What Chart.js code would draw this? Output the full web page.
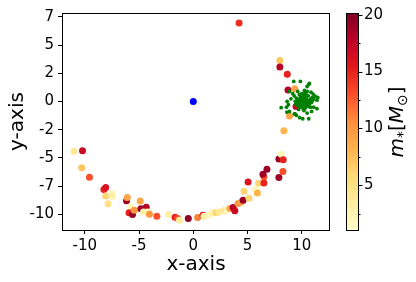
<!DOCTYPE html>
<html><head><meta charset="utf-8">
<script src="https://cdn.jsdelivr.net/npm/chart.js@4/dist/chart.umd.min.js"></script>
<style>html,body{margin:0;padding:0;background:#fff}#wrap{width:416px;height:282px;position:relative}</style>
</head><body><div id="wrap"><canvas id="c" width="416" height="282"></canvas></div>
<script>
// ---- data ----
const starX = [-10.99,-10.21,-10.28,-9.57,-8.24,-8.07,-8.07,-7.52,-7.46,-7.85,-6.15,-6.08,-5.76,-5.92,-5.6,-5.44,-4.89,-4.83,-4.34,-4.59,-4.22,-4.04,-3.36,-2.29,-1.68,-1.43,-1.28,-0.46,0.4,0.89,0.98,1.53,1.83,2.13,2.36,2.91,3.09,3.37,3.67,3.83,4.13,4.44,4.59,5.14,4.68,5.05,5.72,5.91,6.03,6.51,6.51,6.42,6.79,7.89,8.11,8.29,8.26,7.89,8.35,8.87,4.22,7.98,7.98,8.66,8.73,9.36,9.47];
const starY = [-4.42,-4.38,-5.87,-6.73,-7.81,-7.64,-8.38,-8.19,-8.41,-9.07,-8.81,-8.52,-9.34,-9.88,-10.03,-9.65,-8.82,-9.51,-9.38,-9.8,-9.8,-10.0,-10.18,-10.03,-10.27,-10.38,-10.53,-10.38,-10.29,-10.1,-10.18,-10.04,-9.85,-9.88,-9.8,-9.65,-9.6,-9.5,-9.41,-9.69,-9.05,-8.91,-8.76,-8.58,-7.96,-7.14,-7.83,-8.11,-7.26,-7.23,-6.68,-6.46,-6.02,-5.1,-4.69,-5.16,-6.22,-6.75,-2.59,-1.28,6.96,3.63,3.07,2.42,1.02,1.12,-0.44];
const starMass = [4,17,7,13,15,16,6,2.5,3,5,19,9,2,15,19.5,10,9,19,18,3,2.5,10,13,3,15,13,3.5,19.5,11,16,3,2,3,6,4,5,2,9,18,17,10,9,19,6,6,16,2,8,6,15,13,19,19,19,2,15,13,19,8,9,14.5,7,18,15,18,9,17];
const clusterX = [9.26,9.87,10.64,10.49,8.86,9.17,9.63,9.78,10.24,10.39,10.85,11.04,11.22,11.47,11.4,11.1,8.1,8.59,8.86,8.65,8.77,9.0,11.4,10.91,10.49,9.32,9.5,9.81,10.09,10.64,11.1,8.62,9.39,10.7,10.0,10.2,10.3,10.1,9.9,10.4,9.7,9.8,10.5,10.6,10.0,10.3,9.6,10.7,9.9,10.2,10.8,9.5,10.1,10.4,10.0,10.6,9.4,10.9,9.7,10.2,10.8,9.3,11.0,10.5,
  10.15,10.25,10.35,10.05,9.95,10.45,10.55,10.15,10.25,9.85,10.65,10.35,9.75,10.05,10.45,9.9,10.3,10.75,9.65,10.2,10.55,10.0,10.4,9.85,10.1,10.6,9.55,10.95,10.3,9.45];
const clusterY = [1.78,1.78,1.51,1.33,0.89,0.69,0.89,0.6,0.98,0.77,0.83,0.66,0.48,0.36,0.12,0.24,-0.55,-0.5,-0.88,0.0,-0.29,0.24,-0.64,-0.88,-1.03,-1.11,-1.23,-1.44,-1.53,-1.53,-0.5,-0.94,-1.09,1.6,0.2,0.1,-0.1,-0.3,-0.2,0.3,0.1,-0.4,-0.3,0.1,-0.5,-0.6,-0.1,-0.2,0.4,0.5,0.2,0.3,0.0,-0.4,0.7,0.5,0.0,-0.1,-0.7,-0.8,-0.5,0.5,0.1,0.9,
  -0.05,-0.2,0.05,0.1,-0.1,-0.15,0.0,-0.35,0.25,0.05,-0.3,0.4,-0.25,-0.15,0.15,-0.45,-0.3,0.0,0.2,0.6,-0.1,0.35,0.55,0.15,-0.6,-0.45,-0.35,0.35,0.8,-0.2];
const centerX = [0];
const centerY = [0];
const xTicks = [-10,-5,0,5,10];
const xTickLabels = ['-10','-5','0','5','10'];
const yTicks = [-10,-7.5,-5,-2.5,0,2.5,5,7.5];
const yTickLabels = ['-10','-7','-5','-2','0','2','5','7'];
const cbTicks = [5,10,15,20];
const cbTickLabels = ['5','10','15','20'];
const cbMinorTicks = [2.5,7.5,12.5,17.5];
const xTitle = 'x-axis';
const yTitle = 'y-axis';
const cbMin = 1.05, cbMax = 20.15;

// ---- colormap (YlOrRd) ----
const YlOrRd = [[255,255,204],[255,237,160],[254,217,118],[254,178,76],[253,141,60],[252,78,42],[227,26,28],[189,0,38],[128,0,38]];
function cmap(v){
  let t = (v - cbMin) / (cbMax - cbMin);
  t = Math.min(1, Math.max(0, t));
  const s = t * 8, i = Math.min(7, Math.floor(s)), f = s - i;
  const a = YlOrRd[i], b = YlOrRd[i+1];
  return 'rgb(' + [0,1,2].map(k => Math.round(a[k] + (b[k]-a[k])*f)).join(',') + ')';
}
const zip = (xs, ys) => xs.map((x,i) => ({x, y: ys[i]}));

const FONT = "'DejaVu Sans', sans-serif";

const frameAndColorbar = {
  id: 'frameAndColorbar',
  afterDraw(chart){
    const ctx = chart.ctx, ca = chart.chartArea;
    ctx.save();
    ctx.strokeStyle = '#000'; ctx.lineWidth = 1;
    ctx.strokeRect(Math.round(ca.left)+0.5, Math.round(ca.top)+0.5, Math.round(ca.right-ca.left)-1, Math.round(ca.bottom-ca.top));
    // colorbar
    const cx0 = 346, cx1 = 358, top = Math.round(ca.top), bot = Math.round(ca.bottom);
    const h = bot - top;
    for (let p = 0; p < h; p++){
      const v = cbMin + (1 - (p+0.5)/h) * (cbMax - cbMin);
      ctx.fillStyle = cmap(v);
      ctx.fillRect(cx0, top + p, cx1 - cx0, 1);
    }
    ctx.strokeRect(cx0+0.5, top+0.5, cx1-cx0, h);
    const vy = v => bot - (v - cbMin)/(cbMax - cbMin) * h;
    ctx.beginPath();
    cbTicks.forEach(v => { const y = Math.round(vy(v))+0.5; ctx.moveTo(cx1+0.5, y); ctx.lineTo(cx1+4.5, y); });
    cbMinorTicks.forEach(v => { const y = Math.round(vy(v))+0.5; ctx.moveTo(cx1+0.5, y); ctx.lineTo(cx1+2.5, y); });
    ctx.stroke();
    ctx.fillStyle = '#000';
    ctx.font = '15px ' + FONT;
    ctx.textAlign = 'left'; ctx.textBaseline = 'middle';
    cbTicks.forEach((v,i) => ctx.fillText(cbTickLabels[i], 364, vy(v)));
    // colorbar label m_*[M_sun]
    ctx.translate(402.5, 122);
    ctx.rotate(-Math.PI/2);
    ctx.textBaseline = 'alphabetic';
    const parts = [
      {t:'m', f:'italic 20px ' + FONT, dy:0},
      {t:'*', f:'14px ' + FONT, dy:4},
      {t:'[', f:'20px ' + FONT, dy:0},
      {t:'M', f:'italic 20px ' + FONT, dy:0},
      {t:'\u2299', f:'14px ' + FONT, dy:4},
      {t:']', f:'20px ' + FONT, dy:0}
    ];
    let total = 0;
    parts.forEach(p => { ctx.font = p.f; p.w = ctx.measureText(p.t).width; total += p.w; });
    let x = -total/2;
    parts.forEach(p => { ctx.font = p.f; ctx.fillText(p.t, x, p.dy); x += p.w; });
    ctx.restore();
  }
};

new Chart(document.getElementById('c'), {
  type: 'scatter',
  data: {
    datasets: [
      { label: 'cluster', data: zip(clusterX, clusterY), backgroundColor: '#008000', pointRadius: 1.9, borderWidth: 0 },
      { label: 'center', data: zip(centerX, centerY), backgroundColor: '#0000ff', pointRadius: 3.5, borderWidth: 0 },
      { label: 'stars', data: zip(starX, starY), backgroundColor: starMass.map(cmap), pointRadius: 3.5, borderWidth: 0 }
    ]
  },
  options: {
    responsive: false, animation: false, devicePixelRatio: 1,
    layout: { padding: { left: 0, top: 12, right: 86, bottom: 0 } },
    plugins: { legend: { display: false }, tooltip: { enabled: false } },
    scales: {
      x: {
        type: 'linear', min: -12.1, max: 12.6,
        afterBuildTicks: s => { s.ticks = xTicks.map(v => ({value: v})); },
        afterFit: s => { s.height = 52; },
        ticks: { color: '#000', font: { family: FONT, size: 15 }, padding: 3, maxRotation: 0,
          callback: (v) => xTickLabels[xTicks.indexOf(v)] },
        grid: { display: true, drawOnChartArea: false, drawTicks: true, tickLength: 4, color: '#000', lineWidth: 1 },
        border: { display: false },
        title: { display: true, text: xTitle, color: '#000', font: { family: FONT, size: 20 }, padding: { top: 0, bottom: 5 } }
      },
      y: {
        type: 'linear', min: -11.4, max: 7.85,
        afterBuildTicks: s => { s.ticks = yTicks.map(v => ({value: v})); },
        afterFit: s => { s.width = 62; },
        ticks: { color: '#000', font: { family: FONT, size: 15 }, padding: 4,
          callback: (v) => yTickLabels[yTicks.indexOf(v)] },
        grid: { display: true, drawOnChartArea: false, drawTicks: true, tickLength: 4, color: '#000', lineWidth: 1 },
        border: { display: false },
        title: { display: true, text: yTitle, color: '#000', font: { family: FONT, size: 20 }, padding: { top: 6, bottom: 0 } }
      }
    }
  },
  plugins: [frameAndColorbar]
});
</script>
</body></html>
